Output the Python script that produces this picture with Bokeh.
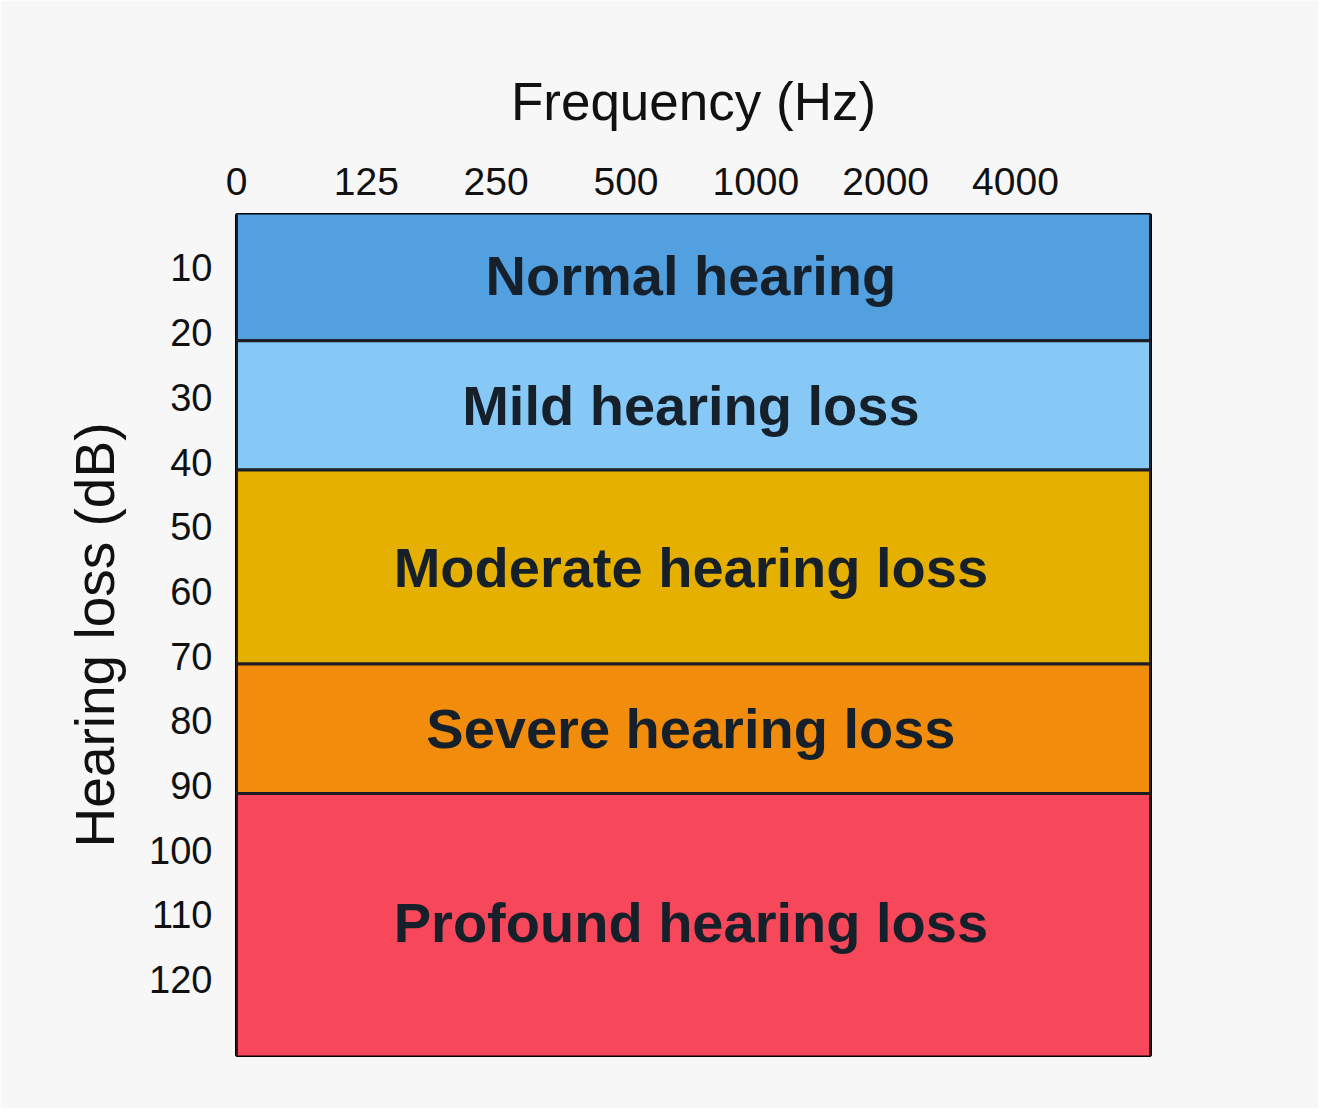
from bokeh.plotting import figure
from bokeh.models import Range1d, LinearAxis, FixedTicker, ColumnDataSource
from bokeh.core.properties import value
from bokeh.embed import file_html
from bokeh.resources import INLINE

# ---- data ----
freq_labels = ["0", "125", "250", "500", "1000", "2000", "4000"]
db_ticks = [10, 20, 30, 40, 50, 60, 70, 80, 90, 100, 110, 120]
bands = ["Normal hearing", "Mild hearing loss", "Moderate hearing loss",
         "Severe hearing loss", "Profound hearing loss"]
band_top = [0, 20, 40, 70, 90]
band_bottom = [20, 40, 70, 90, 131]
band_mid = [10, 30, 55, 80, 110]
band_colors = ["#52a0e0", "#86c8f6", "#e6b000", "#f28c0c", "#f6485a"]

FONT = "Liberation Sans"
x_start, x_end = 0, 7.04
y_top, y_bottom = 0.5, 130.5
label_shift = 1.24  # tick labels sit slightly above their lines

p = figure(width=1318, height=1108, output_backend="svg", toolbar_location=None,
           x_range=Range1d(x_start, x_end), y_range=Range1d(y_bottom, y_top),
           x_axis_location="above", y_axis_location=None,
           min_border_left=236, min_border_right=168,
           min_border_top=214, min_border_bottom=53)
p.background_fill_color = "#f7f7f7"
p.border_fill_color = "#f7f7f7"
p.outline_line_color = "#000000"
p.outline_line_width = 3
p.grid.visible = False

src = ColumnDataSource(dict(
    left=[x_start] * len(bands), right=[x_end] * len(bands),
    top=band_top, bottom=band_bottom, color=band_colors,
    name=bands, mid=band_mid, cx=[(x_start + x_end) / 2 - 0.02] * len(bands)))
p.quad(left="left", right="right", top="top", bottom="bottom", source=src,
       fill_color="color", line_color="#1c1c24", line_width=3)
p.text(x="cx", y="mid", text="name", source=src, text_align="center",
       text_baseline="middle", text_font=value(FONT), text_font_style="bold",
       text_font_size="56px", text_color="#15202b")

# top axis
xa = p.xaxis[0]
xa.ticker = FixedTicker(ticks=list(range(len(freq_labels))))
xa.major_label_overrides = {i: s for i, s in enumerate(freq_labels)}
xa.axis_label = "Frequency (Hz)"
xa.axis_label_text_font = FONT
xa.axis_label_text_font_size = "53px"
xa.axis_label_text_font_style = "normal"
xa.axis_label_text_color = "#111111"
xa.axis_label_standoff = 34
xa.major_label_text_font = FONT
xa.major_label_text_font_size = "39px"
xa.major_label_text_color = "#111111"
xa.major_label_standoff = 20
xa.major_tick_out = 0
xa.major_tick_in = 0
xa.minor_tick_out = 0
xa.minor_tick_in = 0
xa.axis_line_color = None

# left axis (on a slightly shifted range so labels sit above their lines)
p.extra_y_ranges = {"lab": Range1d(y_bottom + label_shift, y_top + label_shift)}
ya = LinearAxis(y_range_name="lab", ticker=FixedTicker(ticks=db_ticks))
ya.axis_label = "Hearing loss (dB)"
ya.axis_label_text_font = FONT
ya.axis_label_text_font_size = "55px"
ya.axis_label_text_font_style = "normal"
ya.axis_label_text_color = "#111111"
ya.axis_label_standoff = 20
ya.major_label_text_font = FONT
ya.major_label_text_font_size = "38px"
ya.major_label_text_color = "#111111"
ya.major_label_standoff = 24
ya.major_tick_out = 0
ya.major_tick_in = 0
ya.minor_tick_out = 0
ya.minor_tick_in = 0
ya.axis_line_color = None
p.add_layout(ya, "left")

open("out.html", "w").write(file_html(p, INLINE))
